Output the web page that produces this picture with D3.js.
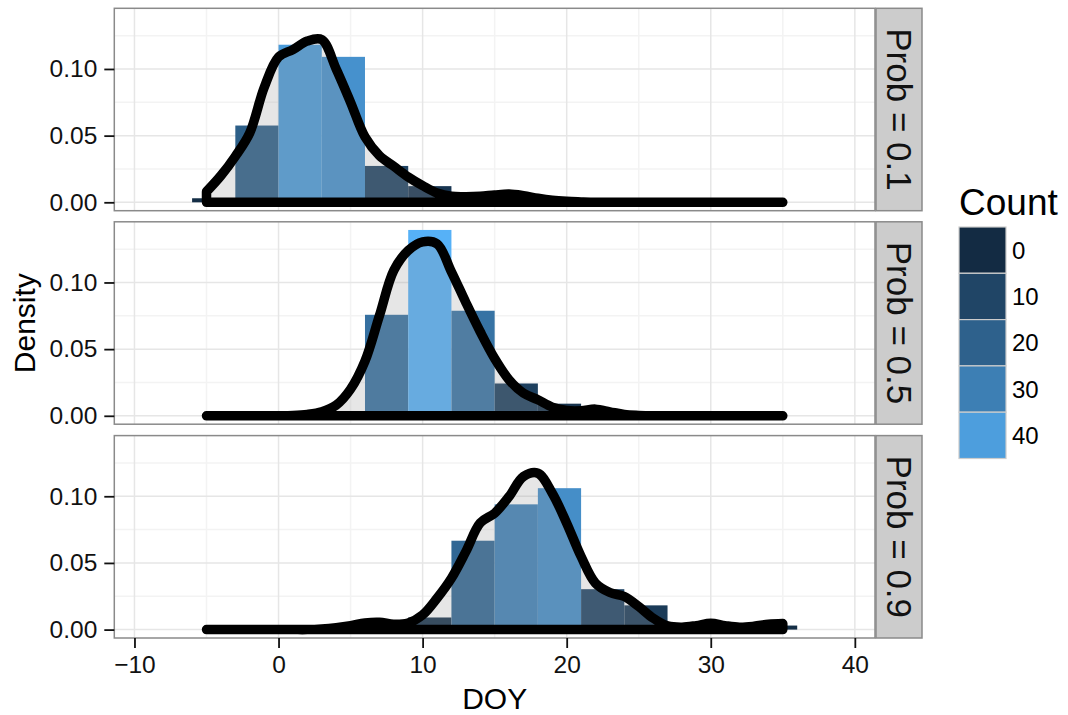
<!DOCTYPE html>
<html><head><meta charset="utf-8">
<script src="https://cdn.jsdelivr.net/npm/d3@7"></script>
<style>body{margin:0;background:#fff;} text{font-family:"Liberation Sans",Arial,Helvetica,sans-serif;}</style>
</head><body><svg id="chart" width="1068" height="715"></svg>
<script>
// ---------- data ----------
const panelLabels = ["Prob = 0.1", "Prob = 0.5", "Prob = 0.9"];
const binStart = [-6, -3, 0, 3, 6, 9, 12, 15, 18, 21, 24, 27, 30, 33];
const binWidth = 3;
const countsP1 = [1, 19, 39, 36, 9, 4, 1, 1, 0, 0, 0, 0, 0, 0];
const countsP2 = [0, 0, 0, 1, 25, 46, 26, 8, 3, 1, 0, 0, 0, 0];
const countsP3 = [0, 0, 0, 0, 1, 3, 22, 31, 35, 10, 6, 0, 1, 1];
const densityX = [-5,-4,-3,-2,-1,0,1,2,3,4,5,6,7,8,9,10,11,12,13,14,15,16,17,18,19,20,21,22,23,24,25,26,27,28,29,30,31,32,33,34,35];
const densityP1 = [0.008,0.020,0.0345,0.052,0.086,0.109,0.1145,0.121,0.122,0.100,0.075,0.049,0.035,0.027,0.019,0.0125,0.007,0.0045,0.0042,0.0045,0.0055,0.0062,0.005,0.003,0.0015,0.0007,0.0003,0,0,0,0,0,0,0,0,0,0,0,0,0,0];
const densityP2 = [0,0,0,0,0,0,0.0002,0.001,0.003,0.008,0.020,0.041,0.075,0.109,0.124,0.1305,0.129,0.108,0.085,0.063,0.043,0.027,0.017,0.012,0.0065,0.004,0.0038,0.005,0.003,0.001,0.0003,0,0,0,0,0,0,0,0,0,0];
const densityP3 = [0,0,0,0,0,0,0,0,0.0005,0.0015,0.003,0.005,0.0055,0.004,0.005,0.011,0.0235,0.0385,0.0585,0.080,0.0873,0.0998,0.1148,0.1173,0.1023,0.0798,0.0548,0.0348,0.0278,0.0248,0.0173,0.0086,0.0028,0.0018,0.003,0.0048,0.003,0.0018,0.0025,0.004,0.0045];
const xTicks = [-10, 0, 10, 20, 30, 40];
const yTicks = [0, 0.05, 0.10];
const xMinor = [-5, 5, 15, 25, 35];
const yMinor = [0.025, 0.075, 0.125];
const legendValues = [0, 10, 20, 30, 40];
const xDomain = [-11.4, 41.4];
const yDomain = [-0.0063, 0.1455];

const countsAll = [countsP1, countsP2, countsP3];
const densAll = [densityP1, densityP2, densityP3];

// ---------- layout ----------
const svg = d3.select("#chart");
const panelLeft = 114.3, panelRight = 875;
const panelTops = [8.3, 221.8, 435.6];
const panelH = 202.4;
const stripX = 876, stripW = 46;

const x = d3.scaleLinear().domain(xDomain).range([panelLeft, panelRight]);
const y = d3.scaleLinear().domain(yDomain).range([panelH, 0]);
const maxCount = d3.max(countsAll.flat());
const color = d3.scaleLinear().domain([0, maxCount]).range(["#132B43", "#56B1F7"]).interpolate(d3.interpolateLab);

svg.append("defs").append("clipPath").attr("id", "clip")
  .append("rect").attr("x", panelLeft).attr("y", 0).attr("width", panelRight - panelLeft).attr("height", panelH);

panelLabels.forEach((lab, i) => {
  const g = svg.append("g").attr("transform", `translate(0,${panelTops[i]})`);
  g.append("rect").attr("x", panelLeft).attr("y", 0).attr("width", panelRight - panelLeft).attr("height", panelH).attr("fill", "#fff");
  g.selectAll(".vmin").data(xMinor).enter().append("line")
    .attr("x1", d => x(d)).attr("x2", d => x(d)).attr("y1", 0).attr("y2", panelH)
    .attr("stroke", "#f3f3f3").attr("stroke-width", 1.5);
  g.selectAll(".hmin").data(yMinor).enter().append("line")
    .attr("x1", panelLeft).attr("x2", panelRight).attr("y1", d => y(d)).attr("y2", d => y(d))
    .attr("stroke", "#f3f3f3").attr("stroke-width", 1.5);
  g.selectAll(".vmaj").data(xTicks).enter().append("line")
    .attr("x1", d => x(d)).attr("x2", d => x(d)).attr("y1", 0).attr("y2", panelH)
    .attr("stroke", "#e6e6e6").attr("stroke-width", 1.5);
  g.selectAll(".hmaj").data(yTicks).enter().append("line")
    .attr("x1", panelLeft).attr("x2", panelRight).attr("y1", d => y(d)).attr("y2", d => y(d))
    .attr("stroke", "#e6e6e6").attr("stroke-width", 1.5);

  const inner = g.append("g").attr("clip-path", "url(#clip)");
  const counts = countsAll[i];
  const total = d3.sum(counts);
  const bars = binStart.map((b, k) => ({ x0: b, x1: b + binWidth, count: counts[k], dens: counts[k] / (total * binWidth) }))
    .filter(d => d.count > 0);
  inner.selectAll("rect.bar").data(bars).enter().append("rect")
    .attr("class", "bar")
    .attr("x", d => x(d.x0)).attr("width", d => x(d.x1) - x(d.x0))
    .attr("y", d => y(d.dens)).attr("height", d => y(0) - y(d.dens))
    .attr("fill", d => color(d.count));

  const pts = densityX.map((dx, k) => [dx, densAll[i][k]]);
  const area = d3.area().x(d => x(d[0])).y0(y(0)).y1(d => y(d[1])).curve(d3.curveCatmullRom.alpha(0.5));
  inner.append("path").datum(pts).attr("d", area)
    .attr("fill", "#9a9a9a").attr("fill-opacity", 0.25)
    .attr("stroke", "#000").attr("stroke-width", 9.5).attr("stroke-linejoin", "round").attr("stroke-linecap", "round");

  g.append("rect").attr("x", panelLeft).attr("y", 0).attr("width", panelRight - panelLeft).attr("height", panelH)
    .attr("fill", "none").attr("stroke", "#8a8a8a").attr("stroke-width", 1.5);

  g.append("rect").attr("x", stripX).attr("y", 0).attr("width", stripW).attr("height", panelH)
    .attr("fill", "#cccccc").attr("stroke", "#8a8a8a").attr("stroke-width", 1.5);
  g.append("text").attr("transform", `translate(${stripX + stripW / 2},${panelH / 2}) rotate(90)`)
    .attr("text-anchor", "middle").attr("dominant-baseline", "central")
    .attr("font-size", 35).attr("fill", "#111").text(lab);

  const ya = g.append("g").attr("transform", `translate(${panelLeft},0)`)
    .call(d3.axisLeft(y).tickValues(yTicks).tickFormat(d3.format(".2f")).tickSize(10).tickPadding(7));
  ya.select(".domain").remove();
  ya.selectAll(".tick line").attr("stroke", "#111").attr("stroke-width", 1.8);
  ya.selectAll(".tick text").attr("font-size", 24.5).attr("fill", "#111").attr("font-family", "Liberation Sans, Arial, sans-serif");

  if (i === 2) {
    const xa = g.append("g").attr("transform", `translate(0,${panelH})`)
      .call(d3.axisBottom(x).tickValues(xTicks).tickFormat(d3.format("d")).tickSize(10).tickPadding(8));
    xa.select(".domain").remove();
    xa.selectAll(".tick line").attr("stroke", "#111").attr("stroke-width", 1.8);
    xa.selectAll(".tick text").attr("font-size", 24.5).attr("fill", "#111").attr("font-family", "Liberation Sans, Arial, sans-serif");
  }
});

svg.append("text").attr("x", (panelLeft + panelRight) / 2).attr("y", 709)
  .attr("text-anchor", "middle").attr("font-size", 30).attr("fill", "#000").text("DOY");
svg.append("text").attr("transform", `translate(35,${(panelTops[0] + panelTops[2] + panelH) / 2}) rotate(-90)`)
  .attr("text-anchor", "middle").attr("font-size", 30).attr("fill", "#000").text("Density");

const lg = svg.append("g");
lg.append("text").attr("x", 959).attr("y", 215).attr("font-size", 37).attr("fill", "#000").text("Count");
const keyX = 959, keyW = 47, keyTop = 227, keyH = 46.3;
legendValues.forEach((v, k) => {
  lg.append("rect").attr("x", keyX).attr("y", keyTop + k * keyH).attr("width", keyW).attr("height", keyH)
    .attr("fill", color(v)).attr("stroke", "#cccccc").attr("stroke-width", 1.2);
  lg.append("text").attr("x", keyX + keyW + 6).attr("y", keyTop + k * keyH + keyH / 2)
    .attr("dominant-baseline", "central").attr("font-size", 24).attr("fill", "#000").text(v);
});
</script></body></html>
